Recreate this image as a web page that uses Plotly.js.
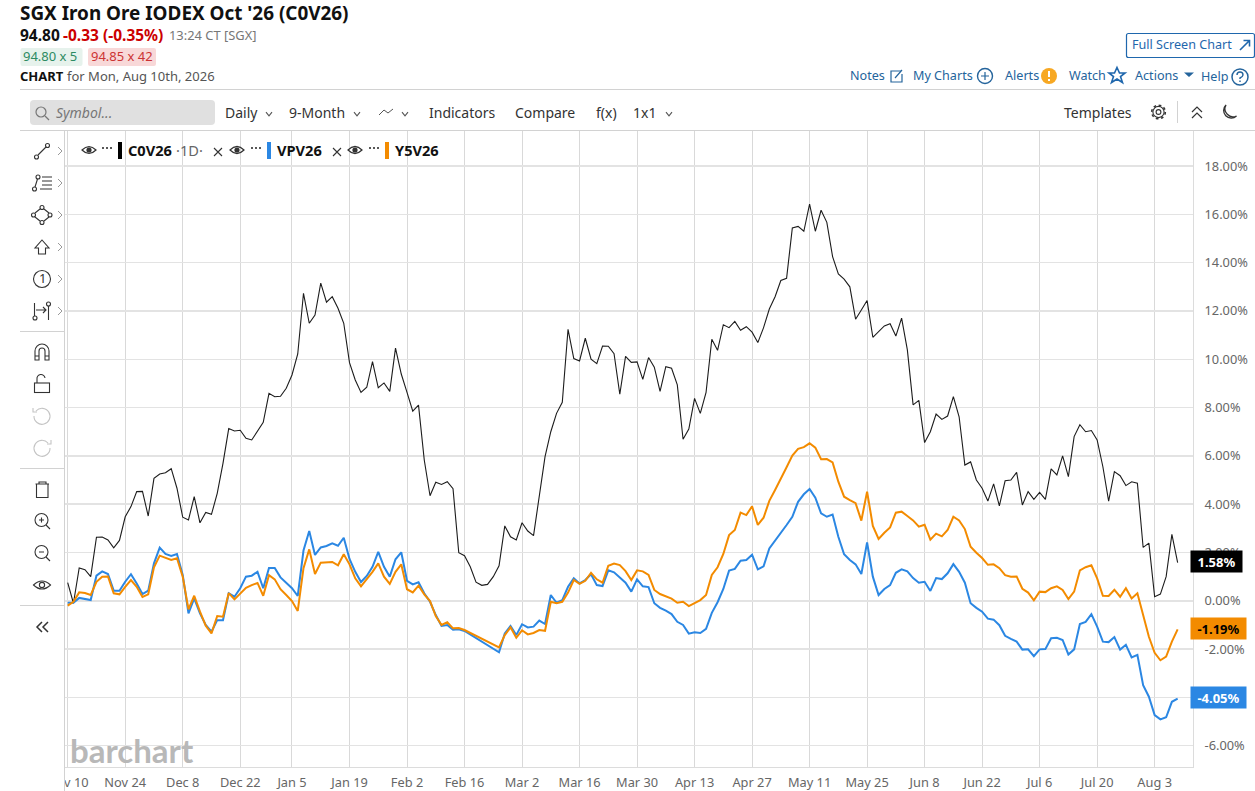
<!DOCTYPE html>
<html><head><meta charset="utf-8">
<script src="https://cdn.plot.ly/plotly-3.0.1.min.js"></script>
<style>
html,body{margin:0;padding:0;background:#fff;width:1255px;height:791px;overflow:hidden;font-family:"Noto Sans",sans-serif}
#chart{position:absolute;left:0;top:0;width:1255px;height:791px}
#icons{position:absolute;left:0;top:0;z-index:2;pointer-events:none}
.t{position:absolute;white-space:nowrap;transform:translateY(-50%);z-index:3;line-height:1.05}
.pill{position:absolute;z-index:2}
</style></head><body>
<div id="chart"></div>
<svg id="icons" width="1255" height="791" xmlns="http://www.w3.org/2000/svg"></svg>
<script>
const dates=[
"2025-11-10","2025-11-11","2025-11-12","2025-11-13","2025-11-14","2025-11-17","2025-11-18","2025-11-19","2025-11-20","2025-11-21",
"2025-11-24","2025-11-25","2025-11-26","2025-11-27","2025-11-28","2025-12-01","2025-12-02","2025-12-03","2025-12-04","2025-12-05",
"2025-12-08","2025-12-09","2025-12-10","2025-12-11","2025-12-12","2025-12-15","2025-12-16","2025-12-17","2025-12-18","2025-12-19",
"2025-12-22","2025-12-23","2025-12-24","2025-12-26","2025-12-29","2025-12-30","2025-12-31","2026-01-01","2026-01-02",
"2026-01-05","2026-01-06","2026-01-07","2026-01-08","2026-01-09","2026-01-12","2026-01-13","2026-01-14","2026-01-15","2026-01-16",
"2026-01-19","2026-01-20","2026-01-21","2026-01-22","2026-01-23","2026-01-26","2026-01-27","2026-01-28","2026-01-29","2026-01-30",
"2026-02-02","2026-02-03","2026-02-04","2026-02-05","2026-02-06","2026-02-09","2026-02-10","2026-02-11","2026-02-12","2026-02-13",
"2026-02-16","2026-02-17","2026-02-18","2026-02-19","2026-02-20","2026-02-23","2026-02-24","2026-02-25","2026-02-26","2026-02-27",
"2026-03-02","2026-03-03","2026-03-04","2026-03-05","2026-03-06","2026-03-09","2026-03-10","2026-03-11","2026-03-12","2026-03-13",
"2026-03-16","2026-03-17","2026-03-18","2026-03-19","2026-03-20","2026-03-23","2026-03-24","2026-03-25","2026-03-26","2026-03-27",
"2026-03-30","2026-03-31","2026-04-01","2026-04-02","2026-04-03","2026-04-06","2026-04-07","2026-04-08","2026-04-09","2026-04-10",
"2026-04-13","2026-04-14","2026-04-15","2026-04-16","2026-04-17","2026-04-20","2026-04-21","2026-04-22","2026-04-23","2026-04-24",
"2026-04-27","2026-04-28","2026-04-29","2026-04-30","2026-05-01","2026-05-04","2026-05-05","2026-05-06","2026-05-07","2026-05-08",
"2026-05-11","2026-05-12","2026-05-13","2026-05-14","2026-05-15","2026-05-18","2026-05-19","2026-05-20","2026-05-21","2026-05-22",
"2026-05-25","2026-05-26","2026-05-27","2026-05-28","2026-05-29","2026-06-01","2026-06-02","2026-06-03","2026-06-04","2026-06-05",
"2026-06-08","2026-06-09","2026-06-10","2026-06-11","2026-06-12","2026-06-15","2026-06-16","2026-06-17","2026-06-18","2026-06-19",
"2026-06-22","2026-06-23","2026-06-24","2026-06-25","2026-06-26","2026-06-29","2026-06-30","2026-07-01","2026-07-02","2026-07-03",
"2026-07-06","2026-07-07","2026-07-08","2026-07-09","2026-07-10","2026-07-13","2026-07-14","2026-07-15","2026-07-16","2026-07-17",
"2026-07-20","2026-07-21","2026-07-22","2026-07-23","2026-07-24","2026-07-27","2026-07-28","2026-07-29","2026-07-30","2026-07-31",
"2026-08-03","2026-08-04","2026-08-05","2026-08-06","2026-08-07"];
const c0v26=[0.75,-0.10,1.36,1.29,1.0,2.63,2.64,2.52,2.19,2.5,
3.48,3.9,4.52,4.53,3.51,5.07,5.25,5.3,5.47,4.66,
3.46,3.35,4.31,3.23,3.66,3.58,4.45,5.69,7.13,7.03,
7.06,6.73,6.66,7.0,7.39,8.59,8.45,8.47,8.8,9.35,
10.22,12.73,11.49,11.83,13.15,12.36,12.59,12.11,11.49,9.86,
9.14,8.63,8.84,9.9,8.82,9.02,8.67,10.46,9.39,8.63,
7.85,8.1,5.83,4.35,4.91,4.82,4.93,4.64,1.99,1.87,
1.41,0.77,0.64,0.68,1.0,1.45,3.1,2.65,2.52,3.23,
2.89,2.7,4.24,5.97,7.0,7.76,8.22,11.24,10.03,9.93,
10.87,10.0,9.82,10.55,10.54,10.23,8.55,10.12,9.87,9.89,
9.17,10.07,9.67,8.67,9.69,9.63,8.94,6.69,7.11,8.38,
7.76,8.63,10.83,10.37,11.43,11.31,11.57,11.2,11.35,11.12,
10.69,11.31,12.08,12.59,13.26,13.35,15.44,15.5,15.3,16.42,
15.3,16.17,15.67,14.25,13.53,13.32,13.0,11.66,12.04,12.43,
10.91,11.14,11.38,11.47,10.96,11.7,10.39,8.11,8.3,6.55,
7.0,7.73,7.51,7.65,8.45,7.62,5.62,5.75,5.0,4.66,
4.13,4.84,3.93,4.97,5.0,5.32,3.97,4.52,4.2,4.49,
4.2,5.46,5.21,6.0,5.14,6.8,7.29,7.0,7.05,6.66,
5.55,4.13,5.35,5.18,4.77,4.93,4.87,2.21,2.39,0.17,
0.28,1.0,2.75,1.58];
const vpv26=[-0.08,-0.08,0.12,0.07,0.03,1.04,1.22,1.11,0.42,0.42,
0.79,1.1,0.72,0.28,0.42,1.55,2.2,1.94,1.86,1.94,
1.07,-0.52,0.1,-0.52,-1.0,-1.28,-0.8,-0.8,0.31,0.17,
0.52,1.0,1.04,1.2,0.52,1.36,1.36,0.97,0.75,0.52,
0.2,2.08,2.89,1.9,2.21,2.27,2.38,2.28,2.61,1.73,
1.2,0.78,1.03,1.41,2.03,1.41,1.0,1.72,2.01,0.83,
0.68,0.77,0.31,-0.04,-0.59,-1.04,-1.0,-1.2,-1.18,-1.25,
null,null,null,null,null,-2.13,-1.35,-1.04,-1.42,-0.97,
-1.1,-1.07,-0.82,-0.96,0.24,-0.08,0.03,0.58,0.93,0.72,
0.86,1.1,0.65,0.61,1.26,1.18,0.97,0.75,0.38,0.89,
0.6,0.57,-0.1,-0.29,-0.41,-0.55,-0.87,-1.0,-1.36,-1.3,
-1.33,-1.16,-0.5,-0.06,0.49,1.25,1.32,1.66,1.69,1.91,
1.3,1.43,2.17,2.48,2.79,3.14,3.48,4.1,4.41,4.63,
4.27,3.62,3.48,3.57,2.65,1.93,1.69,1.51,1.11,2.42,
1.0,0.24,0.49,0.65,1.16,1.3,1.22,0.94,0.75,0.79,
0.41,0.94,0.9,1.14,1.52,1.2,0.75,-0.1,-0.29,-0.45,
-0.74,-0.78,-1.01,-1.45,-1.58,-1.69,-2.02,-2.01,-2.29,-2.01,
-2.0,-1.55,-1.53,-1.62,-2.22,-2.01,-0.96,-0.87,-0.55,-1.07,
-1.69,-1.71,-1.5,-2.02,-1.82,-2.34,-2.24,-3.49,-3.97,-4.73,
-4.91,-4.82,-4.18,-4.05];
const y5v26=[-0.2,-0.04,0.35,0.32,0.24,0.79,1.0,1.01,0.31,0.27,
0.58,0.86,0.58,0.16,0.27,1.39,1.87,1.78,1.69,1.76,
1.0,-0.35,0.21,-0.45,-1.03,-1.35,-0.63,-0.66,0.32,0.06,
0.28,0.54,0.65,0.74,0.21,1.06,0.89,0.48,0.24,-0.01,
-0.42,1.35,2.13,1.11,1.58,1.61,1.61,1.47,1.93,1.51,
0.93,0.6,0.89,1.2,1.55,1.0,0.7,1.2,1.51,0.48,
0.35,0.63,0.27,-0.01,-0.63,-1.0,-0.89,-1.14,-1.13,-1.21,
null,null,null,null,null,-1.93,-1.42,-1.1,-1.53,-1.22,
-1.39,-1.33,-1.21,-1.24,-0.04,-0.1,-0.04,0.34,0.86,0.7,
0.83,1.16,0.89,0.75,1.45,1.54,1.48,1.23,0.86,1.26,
1.22,1.07,0.45,0.28,0.17,0.09,-0.08,-0.04,-0.22,-0.1,
0.03,0.24,1.07,1.39,1.94,2.72,2.93,3.65,3.55,3.91,
3.14,3.44,4.14,4.59,5.03,5.53,6.01,6.29,6.36,6.52,
6.34,5.86,5.87,5.73,4.93,4.31,4.17,4.04,3.32,4.52,
3.1,2.56,2.82,3.04,3.65,3.69,3.51,3.33,3.07,3.15,
2.53,2.78,2.67,2.93,3.48,3.33,2.97,2.24,1.99,1.77,
1.49,1.51,1.35,1.06,1.0,1.01,0.5,0.34,0.02,0.38,
0.36,0.52,0.6,0.45,0.07,0.38,1.26,1.39,1.47,0.93,
0.21,0.2,0.46,0.17,0.52,0.1,0.31,-0.59,-1.49,-2.15,
-2.46,-2.31,-1.69,-1.18];
const xTickDates=["2025-11-10","2025-11-24","2025-12-08","2025-12-22","2026-01-05","2026-01-19","2026-02-02","2026-02-16","2026-03-02","2026-03-16","2026-03-30","2026-04-13","2026-04-27","2026-05-11","2026-05-25","2026-06-08","2026-06-22","2026-07-06","2026-07-20","2026-08-03"];
const xTickLabels=["Nov 10","Nov 24","Dec 8","Dec 22","Jan 5","Jan 19","Feb 2","Feb 16","Mar 2","Mar 16","Mar 30","Apr 13","Apr 27","May 11","May 25","Jun 8","Jun 22","Jul 6","Jul 20","Aug 3"];
const yTickValues=[-6,-4,-2,0,2,4,6,8,10,12,14,16,18];
const yTickLabels=["-6.00%","-4.00%","-2.00%","0.00%","2.00%","4.00%","6.00%","8.00%","10.00%","12.00%","14.00%","16.00%","18.00%"];
const lastTags=[["1.58%",1.58,"#000","#fff",47],["-1.19%",-1.19,"#f38b00","#000",51],["-4.05%",-4.05,"#2b87e3","#fff",51]];

const line=(y,color,width,name)=>({x:dates,y,type:'scatter',mode:'lines',name,connectgaps:true,hoverinfo:'skip',line:{color,width,shape:'linear'}});
const data=[line(c0v26,'#1c1c1c',1.1,'C0V26'),line(vpv26,'#2b87e3',2,'VPV26'),line(y5v26,'#f38b00',2,'Y5V26')];
const layout={
 width:1255,height:791,showlegend:false,paper_bgcolor:'#fff',plot_bgcolor:'#fff',
 margin:{l:65,r:62,t:131,b:24,pad:0},
 font:{family:'"Noto Sans",sans-serif',size:12.8,color:'#666'},
 xaxis:{type:'category',range:[-0.47,195.67],tickmode:'array',tickvals:xTickDates,ticktext:xTickLabels,
  showgrid:true,gridcolor:'#d9d9d9',gridwidth:1,zeroline:false,showline:true,linecolor:'#dcdcdc',ticks:'',tickangle:0,
  tickfont:{size:12.8,color:'#666'},ticklabelstandoff:4,fixedrange:true},
 yaxis:{side:'right',range:[-6.88,19.45],tickmode:'array',tickvals:yTickValues,ticktext:yTickLabels,
  showgrid:true,gridcolor:'#e3e3e3',gridwidth:1.5,zeroline:false,showline:true,linecolor:'#dcdcdc',ticks:'',
  tickfont:{size:12.8,color:'#666'},ticklabelstandoff:8,fixedrange:true},
 annotations:lastTags.map(([txt,v,bg,fg,w])=>({xref:'paper',yref:'y',x:1,y:v,xanchor:'left',yanchor:'middle',xshift:-3,yshift:1,text:'<b>'+txt+'</b>',showarrow:false,
   bgcolor:bg,font:{size:13,color:fg},width:w,height:17,borderpad:2,align:'center'}))
  .concat([{xref:'paper',yref:'paper',x:(68-65)/1128,y:(767-749.5)/636,xanchor:'left',yanchor:'middle',text:'<b>barchart</b>',showarrow:false,
    font:{family:'Lato,sans-serif',size:33,color:'#b8b8b8'}}])
};
Plotly.newPlot('chart',data,layout,{displayModeBar:false,staticPlot:true});

/* page chrome around the chart */
const blue='#24649c',ink='#333';
const texts=[
["SGX Iron Ore IODEX Oct '26 (C0V26)",20,14,18.9,700,'#111'],
["94.80",20,35,15.5,700,'#111'],
["-0.33 (-0.35%)",63,35,15.5,700,'#c00'],
["13:24 CT [SGX]",169,36,12.9,400,'#777'],
["94.80 x 5",23,57,13,400,'#2c8a62'],
["94.85 x 42",91,57,13,400,'#cc3333'],
["CHART",20,76.5,13,700,'#111'],
["for Mon, Aug 10th, 2026",67,76.5,13,400,'#555'],
["Full Screen Chart",1132,45,12.6,400,'#1f67ad'],
["Notes",850,75.5,12.6,400,blue],
["My Charts",913,75.5,12.6,400,blue],
["Alerts",1005,76,12.6,400,blue],
["Watch",1069,75.5,12.6,400,blue],
["Actions",1135,76,12.6,400,blue],
["Help",1201,77,12.6,400,blue],
["Daily",225,113,14,400,ink],
["9-Month",289,113,14,400,ink],
["Indicators",429,113,14,400,ink],
["Compare",515,113,14,400,ink],
["f(x)",596,113,14,400,ink],
["1x1",633,113,14,400,ink],
["Templates",1064,113,14,400,ink],
["C0V26",128,150.5,14.6,700,'#111'],
["·1D·",176,150.5,14.6,400,'#666'],
["VPV26",277,150.5,14.6,700,'#111'],
["Y5V26",395,150.5,14.6,700,'#111'],
["1",39,279,13,400,'#333']
];
texts.forEach(([s,x,y,size,w,c])=>{const d=document.createElement('div');d.className='t';d.textContent=s;
 d.style.cssText=`left:${x}px;top:${y}px;font-size:${size}px;font-weight:${w};color:${c}`;document.body.appendChild(d);});
const italic=document.createElement('div');italic.className='t';italic.textContent='Symbol...';
italic.style.cssText='left:56px;top:113px;font-size:14px;font-style:italic;color:#777';document.body.appendChild(italic);

const chev=(x,y,c='#555',s=3)=>`<path d="M${x-s} ${y-s*.6}L${x} ${y+s*.6}L${x+s} ${y-s*.6}" fill="none" stroke="${c}" stroke-width="1.1"/>`;
const rchev=(x,y)=>`<path d="M${x-2} ${y-4}L${x+2} ${y}L${x-2} ${y+4}" fill="none" stroke="#999" stroke-width="1"/>`;
const eye=(x,y,c='#333')=>`<path d="M${x-7} ${y}Q${x} ${y-7} ${x+7} ${y}Q${x} ${y+7} ${x-7} ${y}Z" fill="none" stroke="${c}" stroke-width="1.2"/><circle cx="${x}" cy="${y}" r="2.6" fill="${c}"/>`;
const dots=(x,y)=>`<path d="M${x-5} ${y}h2M${x-1} ${y}h2M${x+3} ${y}h2" stroke="#222" stroke-width="1.6"/>`;
const cross=(x,y)=>`<path d="M${x-4} ${y-4}L${x+4} ${y+4}M${x+4} ${y-4}L${x-4} ${y+4}" stroke="#333" stroke-width="1.1"/>`;
const stroke='fill="none" stroke="#333" stroke-width="1.1"';
let g='';
g+=`<rect x="0" y="131" width="64" height="660" fill="#fff"/>`;
g+=`<path d="M20 89.5H1255M20 130.5H1255M64.5 131V791M20 331.5H64M20 468.5H64M20 605.5H64M1177.5 101V123" stroke="#d2d2d2" stroke-width="1" fill="none"/>`;
g+=`<rect x="20.5" y="48" width="62" height="18" rx="2" fill="#e6f2ec"/><rect x="88" y="48" width="68" height="18" rx="2" fill="#f8d8d8"/>`;
g+=`<rect x="1126.5" y="33.5" width="128" height="24" rx="2" fill="#fff" stroke="#1f67ad" stroke-width="1.2"/>`;
g+=`<path d="M1240 50L1249 41M1243.5 40.5H1249.5V46.5" stroke="#1f67ad" stroke-width="1.6" fill="none"/>`;
g+=`<rect x="30" y="100" width="185" height="25" rx="4" fill="#e0e0e0"/>`;
g+=`<circle cx="41" cy="112" r="5" fill="none" stroke="#777" stroke-width="1.2"/><path d="M45 116L49 120" stroke="#777" stroke-width="1.2"/>`;
g+=chev(269,114)+chev(357,114)+chev(405,114)+chev(669,114);
g+=`<path d="M379 115L384 110L388 113L393 109" fill="none" stroke="#555" stroke-width="1"/>`;
/* header icons */
const b2='stroke="#24649c" fill="none" stroke-width="1.2"';
g+=`<path d="M901 71H891V82H902V74" ${b2}/><path d="M895 78L902 70" ${b2}/>`;
g+=`<circle cx="985" cy="76" r="7.5" ${b2.replace('1.2','1.4')}/><path d="M981 76H989M985 72V80" ${b2}/>`;
g+=`<circle cx="1049" cy="76" r="8" fill="#f7a823"/><path d="M1049 71V77M1049 79V81" stroke="#fff" stroke-width="2"/>`;
g+=`<path d="M1117 67.5L1119.5 73H1125L1120.5 76.5L1122.5 82.5L1117 79L1111.5 82.5L1113.5 76.5L1109 73H1114.5Z" fill="none" stroke="#1f67ad" stroke-width="1.6"/>`;
g+=`<path d="M1184 72.5H1194L1189 77Z" fill="#24649c"/>`;
g+=`<circle cx="1240" cy="77" r="8" stroke="#24649c" fill="none" stroke-width="1.5"/><path d="M1237 75Q1237 72 1240 72Q1243 72 1243 75Q1243 76.5 1240 78V79M1240 80.5V82" stroke="#24649c" fill="none" stroke-width="1.4"/>`;
g+=`<circle cx="1158.5" cy="112" r="2.4" ${stroke}/><circle cx="1158.5" cy="112" r="5.6" ${stroke}/><circle cx="1158.5" cy="112" r="6.8" fill="none" stroke="#333" stroke-width="1.6" stroke-dasharray="2.67 2.67"/>`;
g+=`<path d="M1192 112L1197 107L1202 112M1192 118L1197 113L1202 118" fill="none" stroke="#333" stroke-width="1.2"/>`;
g+=`<path d="M1226 105A7.5 7.5 0 1 0 1236.5 116A8 8 0 0 1 1226 105Z" fill="none" stroke="#333" stroke-width="1.3"/>`;
/* legend row */
g+=eye(89,150)+dots(107,148)+`<rect x="118" y="142" width="4" height="17" fill="#000"/>`+cross(218,152);
g+=eye(237,150)+dots(256,148)+`<rect x="267" y="142" width="4" height="17" fill="#2b87e3"/>`+cross(337,152);
g+=eye(355,150)+dots(374,148)+`<rect x="385" y="142" width="4" height="17" fill="#f38b00"/>`;
/* left toolbar */
[151,183,215,247,279,311].forEach(y=>g+=rchev(60,y));
g+=`<path d="M38 155L46 147" ${stroke}/><circle cx="36.5" cy="157" r="2" ${stroke}/><circle cx="47.5" cy="145.5" r="2" ${stroke}/>`;
g+=`<path d="M35 187L37.5 179M42 177H52M42 181H52M42 185H52M40 189H52" ${stroke}/><circle cx="34.5" cy="189" r="2" ${stroke}/><circle cx="38" cy="177" r="2" ${stroke}/>`;
g+=`<path d="M35 213L40 209M44 209L49 213M49 217L44 221M40 221L35 217" ${stroke}/><circle cx="33.5" cy="215" r="2" ${stroke}/><circle cx="42" cy="207.5" r="2" ${stroke}/><circle cx="50" cy="215" r="2" ${stroke}/><circle cx="42" cy="222.5" r="2" ${stroke}/>`;
g+=`<path d="M42 240L49 248H45.5V254H38.5V248H35Z" ${stroke}/>`;
g+=`<circle cx="42" cy="279" r="8.5" ${stroke}/>`;
g+=`<path d="M34.5 303V316M48.5 306V320M36 310H46M43 307L46 310L43 313" ${stroke}/><circle cx="35" cy="318" r="2" ${stroke}/><circle cx="48.5" cy="304" r="2" ${stroke}/>`;
g+=`<path d="M35 360V351A7 7 0 0 1 49 351V360H45V351A3 3 0 0 0 39 351V360ZM35 356H39M45 356H49" ${stroke}/>`;
g+=`<rect x="34.5" y="383" width="15" height="9.5" ${stroke}/><path d="M37 383V379A4 4 0 0 1 45 378" ${stroke}/>`;
const grey='fill="none" stroke="#c4c4c4" stroke-width="1.1"';
g+=`<path d="M36 411A8 8 0 1 1 34 416M33 408V412H37" ${grey}/>`;
g+=`<path d="M48 443A8 8 0 1 0 50 448M51 440V444H47" ${grey}/>`;
g+=`<path d="M35.5 484H49M39 484V482H46V484M36.5 484V497.5H48V484" ${stroke}/>`;
g+=`<circle cx="41.5" cy="520" r="6.5" ${stroke}/><path d="M46 525L50 529M39 520H44M41.5 517.5V522.5" ${stroke}/>`;
g+=`<circle cx="41.5" cy="552" r="6.5" ${stroke}/><path d="M46 557L50 561M39 552H44" ${stroke}/>`;
g+=`<path d="M33.5 585Q42 577 50.5 585Q42 593 33.5 585Z" ${stroke}/><circle cx="42" cy="585" r="2.6" ${stroke}/>`;
g+=`<path d="M42 622L37 627L42 632M48 622L43 627L48 632" fill="none" stroke="#333" stroke-width="1.5"/>`;
document.getElementById('icons').innerHTML=g;
</script>
</body></html>
